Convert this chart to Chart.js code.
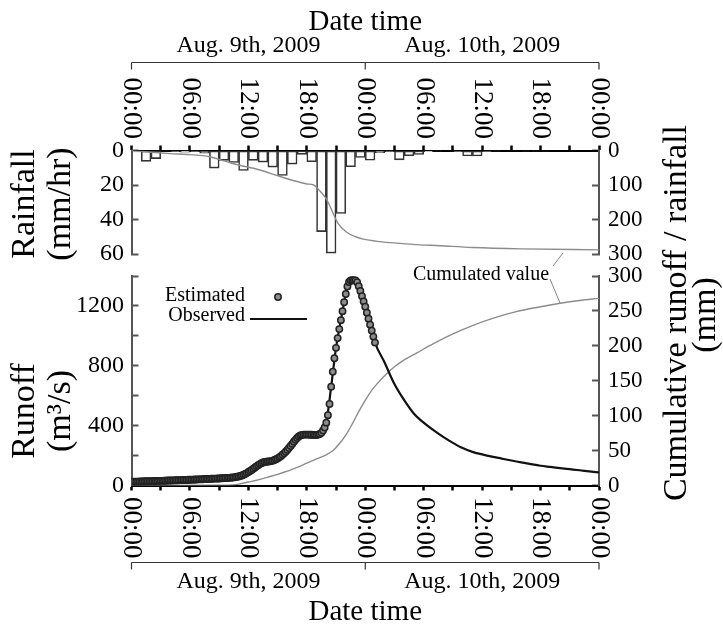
<!DOCTYPE html>
<html>
<head>
<meta charset="utf-8">
<script src="https://cdn.jsdelivr.net/npm/chart.js@4.4.1/dist/chart.umd.min.js"></script>
<style>
  html, body { margin: 0; padding: 0; background: #fff; }
  #wrap { position: relative; width: 723px; height: 626px; }
  #wrap canvas { position: absolute; left: 0; top: 0; }
</style>
</head>
<body>
<div id="wrap">
  <canvas id="rainChart" width="723" height="626"></canvas>
  <canvas id="runoffChart" width="723" height="626"></canvas>
</div>
<script>
"use strict"

// time axis, hours counted from Aug. 9th 2009 00:00
const minorTicks = [0, 3, 6, 9, 12, 15, 18, 21, 24, 27, 30, 33, 36, 39, 42, 45, 48];
const timeTicks = [0, 6, 12, 18, 24, 30, 36, 42, 48];
const timeLabels = ["00:00", "06:00", "12:00", "18:00", "00:00", "06:00", "12:00", "18:00", "00:00"];
const dayLabels = ["Aug. 9th, 2009", "Aug. 10th, 2009"];

// hourly rainfall (mm/hr), one bar per hour from 00:00
const rainfall = [0.8, 6.3, 4.7, 0.3, 0.5, 1.0, 0.5, 1.5, 10.2, 5.7, 6.9, 11.6,
                  5.7, 6.7, 9.6, 14.5, 7.9, 2.2, 6.5, 47.0, 59.5, 36.5, 9.4, 4.0,
                  5.6, 1.3, 0.5, 5.4, 3.0, 2.3, 0.7, 0.3, 0, 0.6, 3.2, 3.2,
                  0.6, 0.3, 0, 0, 0.3, 0.3, 0.3, 0, 0, 0, 0, 0];

// cumulated rainfall (mm)
const cumRainHours = [0, 2, 4, 6, 8, 9.5, 11, 13, 15, 16, 17, 18, 18.7, 19.4, 20, 20.4, 21.2, 22.1, 23, 23.8, 25.5, 28.9, 31.7, 35, 40, 48];
const cumRain = [0, 5, 9, 12, 18, 30, 42, 55, 73, 82, 90, 97, 100, 119, 140, 163, 211, 237, 250, 257, 264, 272, 276, 281, 285, 288];

// observed runoff (m3/s)
const obsHours = [0, 4, 8, 10, 11, 12, 13, 14, 15, 16, 17, 17.5, 18.5, 19.5, 20, 20.5, 21, 21.5, 22, 22.3,
                  22.6, 23, 23.5, 24, 24.5, 25, 26, 26.9, 28, 29, 30, 31, 32, 33, 34, 35, 36, 37, 38, 39,
                  40, 41, 42, 43, 44, 45, 46, 47, 48];
const obsRunoff = [25, 33, 44, 51, 60, 90, 136, 160, 181, 238, 317, 340, 339, 352, 420, 660, 920, 1105, 1280, 1360,
                   1372, 1370, 1300, 1195, 1075, 955, 820, 690, 570, 480, 420, 370, 325, 285, 250, 225, 208, 193, 180, 167,
                   155, 143, 132, 124, 116, 109, 102, 94, 87];

// estimated runoff (m3/s), every 10 minutes from 00:00 Aug. 9th to 01:00 Aug. 10th
const estMinutes = 10;
const estRunoff = [
  25, 25, 26, 26, 26, 27,   27, 27, 28, 28, 28, 29,   29, 29, 30, 30, 30, 31,
  31, 31, 32, 32, 33, 33,   33, 34, 34, 35, 35, 35,   36, 36, 37, 37, 37, 38,
  38, 39, 39, 40, 40, 41,   41, 42, 42, 43, 43, 44,   44, 45, 45, 46, 46, 47,
  47, 48, 48, 49, 50, 50,   51, 52, 53, 54, 56, 58,   60, 63, 67, 72, 77, 83,
  90, 97, 104, 112, 120, 128,   136, 143, 149, 154, 157, 159,   160, 161, 163, 166, 170, 175,
  181, 188, 196, 205, 215, 226,   238, 251, 264, 278, 292, 305,   317, 327, 334, 338, 340, 340,
  340, 340, 339, 339, 338, 338,   338, 340, 344, 352, 368, 388,   420, 470, 545, 660, 760, 850,
  920, 985, 1045, 1105, 1165, 1225,   1280, 1330, 1360, 1370, 1372, 1372,   1370, 1358, 1332, 1300, 1265, 1230,
  1195, 1155, 1115, 1075, 1035, 995,   955
];

// cumulated runoff (mm)
const cumRunoffHours = [0, 10, 11, 12, 13, 14, 15, 16, 17, 18, 19, 20, 20.7, 21.3, 22, 22.7, 23.3, 24, 24.7, 25.5, 26.2, 27, 28,
                        29.3, 31, 33, 35, 37, 39.5, 42, 44, 46, 48];
const cumRunoff = [0, 0.5, 2, 5, 8, 12, 16, 20.5, 26, 32, 38, 44, 50, 59, 72, 89, 105, 122, 137, 150, 160, 170, 180,
                   190, 203, 217, 229, 239, 249, 256, 261, 265, 268];

const serif = "'Liberation Serif', 'Times New Roman', serif";
const axisGray = '#555';

function toPoints(xs, ys) {
    return xs.map((x, i) => ({ x: x, y: ys[i] }));
}

function drawText(ctx, text, x, y, size, rotate, align) {
    ctx.save();
    ctx.translate(x, y);
    if (rotate) ctx.rotate(rotate);
    ctx.font = size + "px " + serif;
    ctx.fillStyle = '#000';
    ctx.textAlign = align || 'center';
    ctx.textBaseline = 'middle';
    ctx.fillText(text, 0, 0);
    ctx.restore();
}

// bracket under the day labels, with small ticks at day boundaries
function drawBracket(ctx, xScale, y) {
    ctx.save();
    ctx.strokeStyle = '#333';
    ctx.lineWidth = 1.2;
    ctx.beginPath();
    ctx.moveTo(xScale.getPixelForValue(0), y);
    ctx.lineTo(xScale.getPixelForValue(48), y);
    [0, 24, 48].forEach(h => {
        const px = xScale.getPixelForValue(h);
        ctx.moveTo(px, y);
        ctx.lineTo(px, y + 7);
    });
    ctx.stroke();
    ctx.restore();
}

function drawDates(ctx, xScale, y) {
    drawText(ctx, dayLabels[0], xScale.getPixelForValue(12), y, 24);
    drawText(ctx, dayLabels[1], xScale.getPixelForValue(36), y, 24);
}

const topDecor = {
    id: 'topDecor',
    afterDraw(chart) {
        const ctx = chart.ctx;
        const x = chart.scales.x;
        timeTicks.forEach((h, i) => {
            drawText(ctx, timeLabels[i], x.getPixelForValue(h), 139, 27, Math.PI / 2, 'right');
        });
        drawBracket(ctx, x, 62.5);
        drawDates(ctx, x, 46);
        drawText(ctx, "Date time", x.getPixelForValue(24), 22, 29);
        drawText(ctx, "Rainfall", 25, 204, 34, -Math.PI / 2);
        drawText(ctx, "(mm/hr)", 61, 204, 34, -Math.PI / 2);
    }
};

const bottomDecor = {
    id: 'bottomDecor',
    afterDraw(chart) {
        const ctx = chart.ctx;
        const x = chart.scales.x;
        timeTicks.forEach((h, i) => {
            drawText(ctx, timeLabels[i], x.getPixelForValue(h), 497, 27, Math.PI / 2, 'left');
        });
        drawBracket(ctx, x, 562.5);
        drawDates(ctx, x, 582);
        drawText(ctx, "Date time", x.getPixelForValue(24), 612, 29);
        drawText(ctx, "Runoff", 25, 411, 34, -Math.PI / 2);
        drawText(ctx, "(m³/s)", 61, 411, 34, -Math.PI / 2);
        drawText(ctx, "Cumulative runoff / rainfall", 677, 313, 34, -Math.PI / 2);
        drawText(ctx, "(mm)", 706, 315, 34, -Math.PI / 2);

        // legend
        drawText(ctx, "Estimated", 245, 296, 20, 0, 'right');
        drawText(ctx, "Observed", 245, 316, 20, 0, 'right');
        ctx.save();
        ctx.beginPath();
        ctx.arc(278, 297, 3.2, 0, Math.PI * 2);
        ctx.fillStyle = '#8c8c8c';
        ctx.fill();
        ctx.lineWidth = 1.5;
        ctx.strokeStyle = '#222';
        ctx.stroke();
        ctx.beginPath();
        ctx.moveTo(250, 319);
        ctx.lineTo(307, 319);
        ctx.lineWidth = 2;
        ctx.strokeStyle = '#111';
        ctx.stroke();

        // label for both cumulated curves, with leader lines
        drawText(ctx, "Cumulated value", 481, 275, 20);
        ctx.beginPath();
        ctx.moveTo(553, 266);
        ctx.lineTo(563, 253);
        ctx.moveTo(550, 279);
        ctx.lineTo(560, 303);
        ctx.lineWidth = 0.8;
        ctx.strokeStyle = '#666';
        ctx.stroke();
        ctx.restore();
    }
};

function xAxis(position, height) {
    return {
        type: 'linear',
        position: position,
        min: 0,
        max: 48,
        offset: false,
        afterBuildTicks: (scale) => { scale.ticks = minorTicks.map(v => ({ value: v })); },
        ticks: { display: false },
        grid: { drawOnChartArea: false, offset: false, tickLength: 5, tickWidth: 2.5, tickColor: '#000' },
        border: { color: '#000', width: 2 },
        afterFit: (scale) => { scale.height = height; }
    };
}

function yAxis(position, min, max, step, reverse, width, size, padding, callback) {
    return {
        position: position,
        reverse: reverse,
        min: min,
        max: max,
        ticks: {
            stepSize: step,
            autoSkip: false,
            color: '#000',
            padding: padding,
            font: { family: serif, size: size },
            callback: callback || (v => v)
        },
        grid: { drawOnChartArea: false, tickLength: -7, tickWidth: 2, tickColor: axisGray },
        border: { color: axisGray, width: 2 },
        afterFit: (scale) => { scale.width = width; }
    };
}

new Chart(document.getElementById('rainChart'), {
    type: 'bar',
    data: {
        datasets: [
            {
                type: 'line',
                order: 0,
                data: toPoints(cumRainHours, cumRain),
                yAxisID: 'yCum',
                borderColor: '#8c8c8c',
                borderWidth: 1.4,
                pointRadius: 0,
                cubicInterpolationMode: 'monotone'
            },
            {
                type: 'bar',
                order: 1,
                data: rainfall.map((v, i) => ({ x: i + 0.5, y: v })),
                yAxisID: 'yRain',
                backgroundColor: '#fff',
                borderColor: '#333',
                borderWidth: 1.6,
                borderSkipped: false,
                barPercentage: 1,
                categoryPercentage: 1
            }
        ]
    },
    options: {
        responsive: false,
        animation: false,
        devicePixelRatio: 1,
        layout: { padding: { top: 0, bottom: 372, left: 0, right: 0 } },
        plugins: { legend: { display: false }, tooltip: { enabled: false } },
        scales: {
            x: xAxis('top', 150.5),
            yRain: yAxis('left', 0, 60, 20, true, 131.5, 24, 14.5),
            yCum: yAxis('right', 0, 300, 100, true, 124, 23, 16)
        }
    },
    plugins: [topDecor]
});

new Chart(document.getElementById('runoffChart'), {
    type: 'scatter',
    data: {
        datasets: [
            {
                order: 0,
                data: estRunoff.map((v, i) => ({ x: i * estMinutes / 60, y: v })),
                yAxisID: 'yRun',
                showLine: false,
                pointRadius: 3.2,
                pointBackgroundColor: '#8c8c8c',
                pointBorderColor: '#222',
                pointBorderWidth: 1.5
            },
            {
                order: 1,
                data: toPoints(obsHours, obsRunoff),
                yAxisID: 'yRun',
                showLine: true,
                borderColor: '#111',
                borderWidth: 2.2,
                pointRadius: 0,
                cubicInterpolationMode: 'monotone'
            },
            {
                order: 2,
                data: toPoints(cumRunoffHours, cumRunoff),
                yAxisID: 'yCum',
                showLine: true,
                borderColor: '#8c8c8c',
                borderWidth: 1.4,
                pointRadius: 0,
                cubicInterpolationMode: 'monotone'
            }
        ]
    },
    options: {
        responsive: false,
        animation: false,
        devicePixelRatio: 1,
        layout: { padding: { top: 276, bottom: 0, left: 0, right: 0 } },
        plugins: { legend: { display: false }, tooltip: { enabled: false } },
        scales: {
            x: xAxis('bottom', 140.5),
            yRun: yAxis('left', 0, 1400, 200, false, 131.5, 24, 14.5, v => (v % 400 === 0 ? v : '')),
            yCum: yAxis('right', 0, 300, 50, false, 124, 23, 16)
        }
    },
    plugins: [bottomDecor]
});
</script>
</body>
</html>
